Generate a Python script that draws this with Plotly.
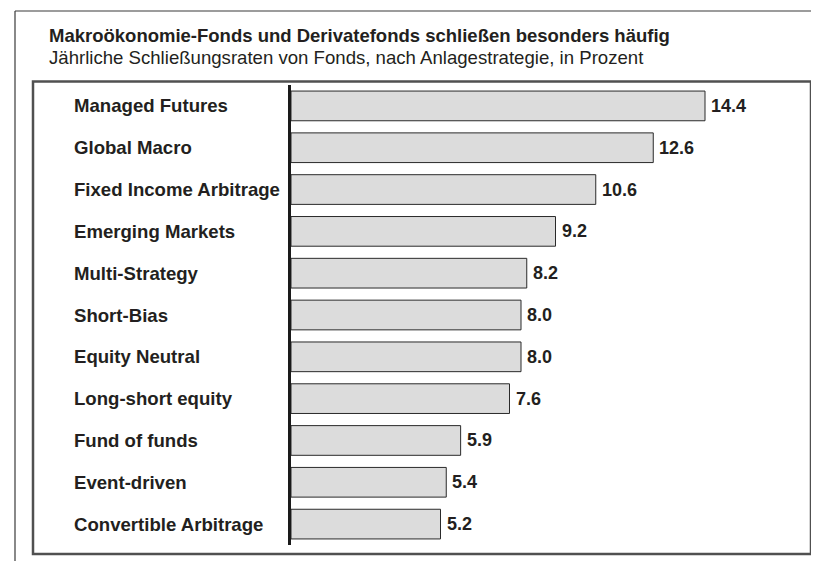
import plotly.graph_objects as go

# ---- data ----
categories = [
    "Managed Futures", "Global Macro", "Fixed Income Arbitrage", "Emerging Markets",
    "Multi-Strategy", "Short-Bias", "Equity Neutral", "Long-short equity",
    "Fund of funds", "Event-driven", "Convertible Arbitrage",
]
values = [14.4, 12.6, 10.6, 9.2, 8.2, 8.0, 8.0, 7.6, 5.9, 5.4, 5.2]
value_labels = ["14.4", "12.6", "10.6", "9.2", "8.2", "8.0", "8.0", "7.6", "5.9", "5.4", "5.2"]
title_text = "Makroökonomie-Fonds und Derivatefonds schließen besonders häufig"
subtitle_text = "Jährliche Schließungsraten von Fonds, nach Anlagestrategie, in Prozent"

# ---- layout constants (pixels) ----
W, H = 819, 561
L, R, T, B = 283, 780, 77, 537
PW, PH = R - L, B - T
PX_PER_UNIT = 28.75
XMAX = PW / PX_PER_UNIT

FONT = "Liberation Sans, Arial, sans-serif"
TXT = "#231f20"


def px(xp):
    return (xp - L) / PW


def py(yp):
    return 1 - (yp - T) / PH


fig = go.Figure()
fig.add_trace(go.Bar(
    y=categories, x=values, orientation="h",
    marker=dict(color="#dcdcdc", line=dict(color="#2a2a2a", width=1)),
    hoverinfo="skip",
))

annotations = []
# category labels, left aligned
for c in categories:
    annotations.append(dict(
        x=px(64), xref="paper", y=c, yref="y", xanchor="left", yanchor="middle",
        text=c, showarrow=False,
        font=dict(family=FONT, size=18.6, color=TXT, weight="bold"),
    ))
# value labels at bar ends
for c, v, t in zip(categories, values, value_labels):
    annotations.append(dict(
        x=v, xref="x", y=c, yref="y", xanchor="left", yanchor="middle",
        xshift=4, text=t, showarrow=False,
        font=dict(family=FONT, size=18, color=TXT, weight="bold"),
    ))
annotations.append(dict(
    x=px(39), xref="paper", y=py(27.5), yref="paper", xanchor="left", yanchor="middle",
    text=title_text, showarrow=False,
    font=dict(family=FONT, size=18.5, color=TXT, weight="bold"),
))
annotations.append(dict(
    x=px(39), xref="paper", y=py(49.5), yref="paper", xanchor="left", yanchor="middle",
    text=subtitle_text, showarrow=False,
    font=dict(family=FONT, size=18.6, color=TXT),
))

shapes = [
    # inner frame
    dict(type="rect", xref="paper", yref="paper",
         x0=px(25), x1=px(803), y0=py(546), y1=py(73.5),
         line=dict(color="#505050", width=2.5), fillcolor="rgba(0,0,0,0)", layer="below"),
    # outer page lines
    dict(type="line", xref="paper", yref="paper",
         x0=px(7), x1=px(830), y0=py(3), y1=py(3),
         line=dict(color="#3a3a3a", width=1.2)),
    dict(type="line", xref="paper", yref="paper",
         x0=px(7), x1=px(7), y0=py(3), y1=py(570),
         line=dict(color="#3a3a3a", width=1.2)),
]

fig.update_layout(
    width=W, height=H,
    margin=dict(l=L, r=W - R, t=T, b=H - B, pad=0),
    paper_bgcolor="white", plot_bgcolor="white",
    showlegend=False,
    bargap=0.29,
    xaxis=dict(range=[0, XMAX], visible=False, fixedrange=True),
    yaxis=dict(
        categoryorder="array", categoryarray=categories, autorange="reversed",
        showticklabels=False, ticks="", showgrid=False, zeroline=False,
        showline=True, linecolor="#1a1a1a", linewidth=2.5,
    ),
    annotations=annotations,
    shapes=shapes,
)

fig.write_html("out.html")
